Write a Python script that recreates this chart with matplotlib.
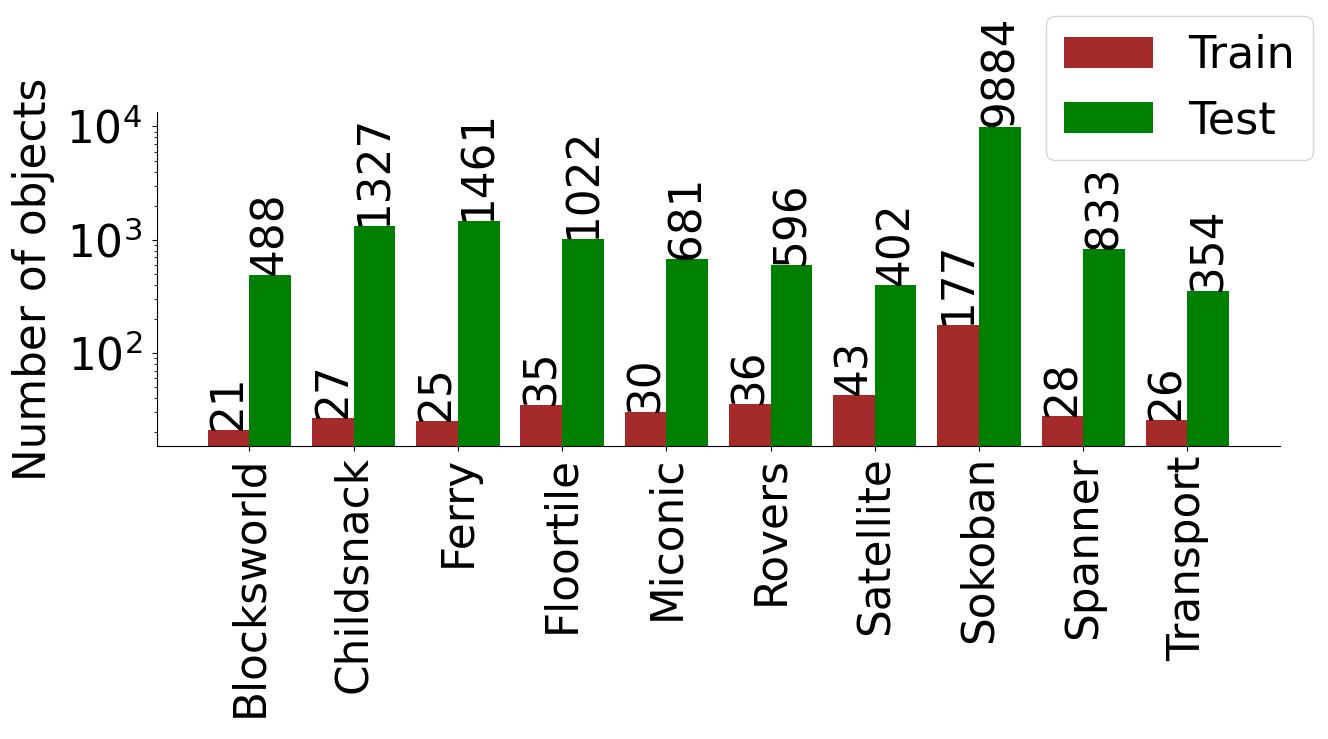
import matplotlib
matplotlib.use("Agg")
import matplotlib.pyplot as plt
import numpy as np

domains = ["Blocksworld", "Childsnack", "Ferry", "Floortile", "Miconic",
           "Rovers", "Satellite", "Sokoban", "Spanner", "Transport"]
train = [21, 27, 25, 35, 30, 36, 43, 177, 28, 26]
test = [488, 1327, 1461, 1022, 681, 596, 402, 9884, 833, 354]

FS = 31.5
FS_LEG = 32
fig = plt.figure(figsize=(13.28, 7.39), dpi=100)
ax = fig.add_axes([0.118, 0.3965, 0.846, 0.452])

x = np.arange(len(domains))
w = 0.4
b1 = ax.bar(x - w / 2, train, w, color="#a52a2a", label="Train")
b2 = ax.bar(x + w / 2, test, w, color="#008000", label="Test")
ax.set_yscale("log")
ax.set_ylim(15.2, 13400)

for bars, vals in ((b1, train), (b2, test)):
    for r, v in zip(bars, vals):
        ax.annotate(str(v), (r.get_x() + r.get_width() / 2, v),
                    ha="center", va="bottom", rotation=90, fontsize=FS)

ax.set_xticks(x)
ax.set_xticklabels(domains, rotation=90, fontsize=FS)
ax.tick_params(axis="y", labelsize=FS, pad=7)
ax.set_ylabel("Number of objects", fontsize=FS, labelpad=8)
ax.spines["top"].set_visible(False)
ax.spines["right"].set_visible(False)

fig.legend(loc="upper right", bbox_to_anchor=(1313 / 1328, 1 - 16 / 739),
           bbox_transform=fig.transFigure, fontsize=FS_LEG, borderaxespad=0)

fig.savefig("out.png", dpi=100)
